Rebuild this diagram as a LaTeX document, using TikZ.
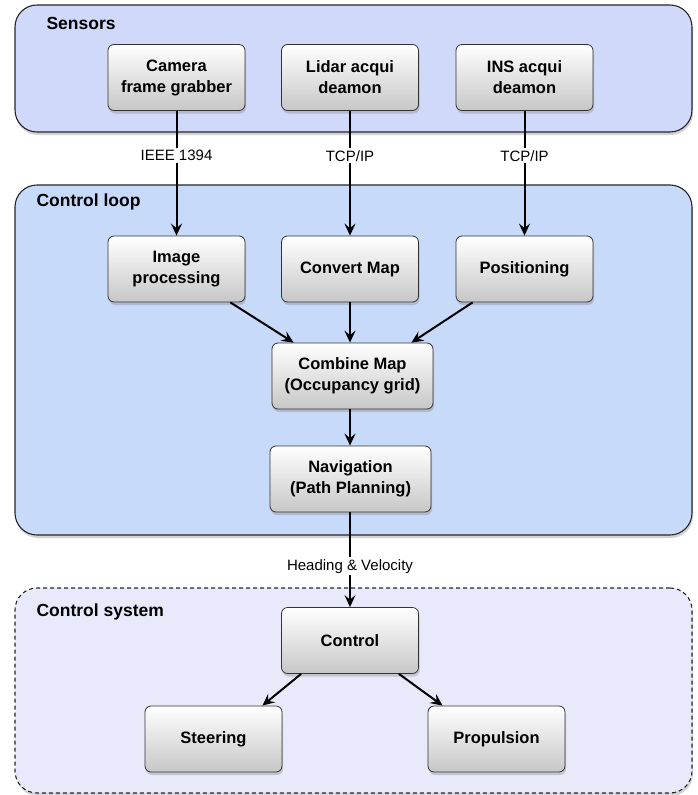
\documentclass[tikz,border=0pt]{standalone}
\usepackage{fontspec}
\setmainfont{Liberation Sans}
\usetikzlibrary{shadows,arrows.meta,calc}
\definecolor{sensfill}{RGB}{208,217,250}
\definecolor{loopfill}{RGB}{200,218,250}
\definecolor{csfill}{RGB}{232,234,252}
\tikzset{
  grp/.style={draw=black!85, line width=1.1pt, rounded corners=22pt, drop shadow={opacity=0.35,shadow xshift=1pt,shadow yshift=-3pt}},
  grplabel/.style={anchor=west, font=\bfseries\fontsize{17.5}{20}\selectfont},
  box/.style={draw=black!80, line width=0.8pt, rounded corners=6pt, top color=white, bottom color=black!22,
    minimum width=137pt, minimum height=66pt, align=center, font=\bfseries\fontsize{16.5}{21}\selectfont,
    drop shadow={opacity=0.35,shadow xshift=1pt,shadow yshift=-3pt}},
  wide/.style={minimum width=161pt},
  conn/.style={line width=2pt, -{Stealth[length=12pt,width=11pt,inset=4.5pt]}},
  clabel/.style={fill=white, inner sep=2pt, font=\fontsize{15}{17}\selectfont},
}
\begin{document}
\begin{tikzpicture}[x=1pt,y=-1pt]
\useasboundingbox (0,0) rectangle (697,795);
% groups
\node[grp, fill=sensfill, minimum width=677pt, minimum height=127pt] (sensors) at (353.5,68.5) {};
\node[grplabel] (sensorslbl) at (43,23) {Sensors};
\node[grp, fill=loopfill, minimum width=677pt, minimum height=350pt] (loop) at (353.5,360) {};
\node[grplabel] (looplbl) at (33,202) {Control loop};
\node[grp, fill=csfill, dash pattern=on 4pt off 3pt, minimum width=677pt, minimum height=205pt] (cs) at (353.5,690.5) {};
\node[grplabel] (cslbl) at (33,612) {Control system};
% nodes
\node[box] (cam) at (176.5,77.5) {Camera\\frame grabber};
\node[box] (lidar) at (350,77.5) {Lidar acqui\\deamon};
\node[box] (ins) at (524.5,77.5) {INS acqui\\deamon};
\node[box] (img) at (176.5,269) {Image\\processing};
\node[box] (conv) at (350,269) {Convert Map};
\node[box] (pos) at (524.5,269) {Positioning};
\node[box, wide] (comb) at (352.5,376) {Combine Map\\(Occupancy grid)};
\node[box, wide] (nav) at (350.5,479) {Navigation\\(Path Planning)};
\node[box] (ctrl) at (350,640.5) {Control};
\node[box] (steer) at (213.5,739) {Steering};
\node[box] (prop) at (496.5,739) {Propulsion};
% helper coordinates
\coordinate (a1) at ($(img.south east)+(-15,0)$);
\coordinate (b1) at ($(comb.north west)+(22,0)$);
\coordinate (a2) at ($(pos.south west)+(17,0)$);
\coordinate (b2) at ($(comb.north east)+(-22,0)$);
\coordinate (a3) at ($(ctrl.south west)+(20,0)$);
\coordinate (b3) at ($(steer.north east)+(-20,0)$);
\coordinate (a4) at ($(ctrl.south east)+(-20,0)$);
\coordinate (b4) at ($(prop.north west)+(15,0)$);
% connectors
\draw[conn] (cam.south) -- node[clabel, pos=0.36] {IEEE 1394} (img.north);
\draw[conn] (lidar.south) -- node[clabel, pos=0.36] {TCP/IP} (conv.north);
\draw[conn] (ins.south) -- node[clabel, pos=0.36] {TCP/IP} (pos.north);
\draw[conn] (a1) -- (b1);
\draw[conn] (conv.south) -- (comb.north -| conv.south);
\draw[conn] (a2) -- (b2);
\draw[conn] (comb.south -| conv.south) -- (nav.north -| conv.south);
\draw[conn] (nav.south -| conv.south) -- node[clabel, pos=0.57] {Heading \& Velocity} (ctrl.north);
\draw[conn] (a3) -- (b3);
\draw[conn] (a4) -- (b4);
\end{tikzpicture}
\end{document}
